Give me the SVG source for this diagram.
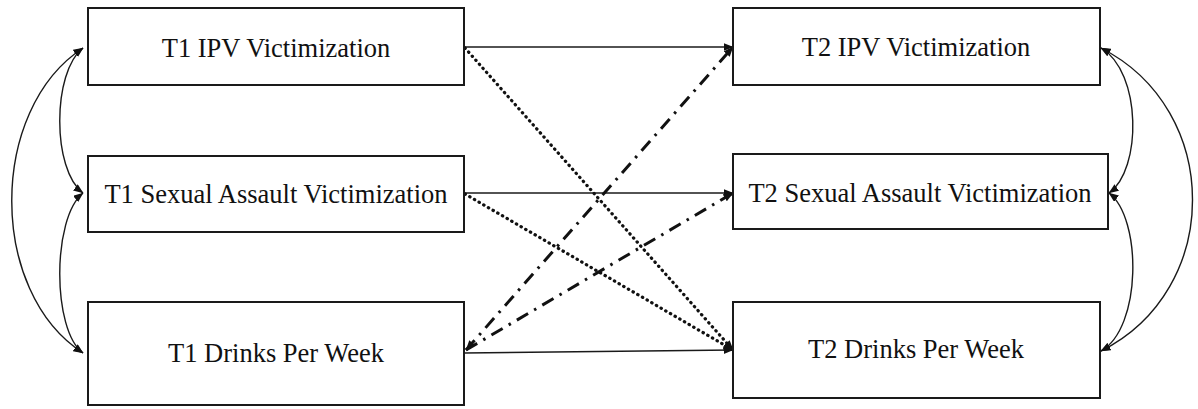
<svg xmlns="http://www.w3.org/2000/svg" width="1198" height="409" viewBox="0 0 1198 409">
  <style>
    .box { fill: #ffffff; stroke: #1a1a1a; stroke-width: 2; }
    .label { font-family: "Liberation Serif", "Times New Roman", "DejaVu Serif", serif; font-size: 26.5px; fill: #111111; text-anchor: middle; }
    .solid { fill: none; stroke: #1a1a1a; stroke-width: 1.6; }
    .curve { fill: none; stroke: #1a1a1a; stroke-width: 1.4; }
    .dotted { fill: none; stroke: #111111; stroke-width: 3.2; stroke-linecap: round; stroke-dasharray: 0.4 5; }
    .dashdot { fill: none; stroke: #111111; stroke-width: 3; stroke-dasharray: 13 7 2.5 7; }
  </style>
  <defs>
    <marker id="arrow" viewBox="0 0 10 8" refX="9.5" refY="4" markerWidth="10" markerHeight="8" markerUnits="userSpaceOnUse" orient="auto-start-reverse">
      <path d="M0,0 L10,4 L0,8 Z" fill="#111111"/>
    </marker>
  </defs>

  <!-- connectors: regression paths and covariance arcs -->
  <g id="connectors">
    <!-- autoregressive paths -->
    <path class="solid" d="M464,47 L733,47" marker-end="url(#arrow)"/>
    <path class="solid" d="M464,193 L733,193" marker-end="url(#arrow)"/>
    <path class="solid" d="M464,353 L733,350" marker-end="url(#arrow)"/>

    <!-- victimization to drinking (dotted) -->
    <path class="dotted" d="M465,48 L733,350" marker-end="url(#arrow)"/>
    <path class="dotted" d="M465,194 L733,350" marker-end="url(#arrow)"/>

    <!-- drinking to victimization (dash-dot) -->
    <path class="dashdot" d="M466,350 L733,47" marker-start="url(#arrow)" marker-end="url(#arrow)"/>
    <path class="dashdot" d="M466,350 L733,193" marker-end="url(#arrow)"/>

    <!-- T1 covariances -->
    <path class="curve" d="M83,48 C52,72 52,170 83,193" marker-start="url(#arrow)" marker-end="url(#arrow)"/>
    <path class="curve" d="M83,193 C52,218 52,330 83,353" marker-start="url(#arrow)" marker-end="url(#arrow)"/>
    <path class="curve" d="M83,48 C-12,110 -12,292 83,353" marker-start="url(#arrow)" marker-end="url(#arrow)"/>

    <!-- T2 covariances -->
    <path class="curve" d="M1101,48 C1142,72 1142,170 1109,193" marker-start="url(#arrow)" marker-end="url(#arrow)"/>
    <path class="curve" d="M1109,193 C1142,218 1142,328 1101,351" marker-start="url(#arrow)" marker-end="url(#arrow)"/>
    <path class="curve" d="M1101,48 C1223,110 1223,290 1101,351" marker-start="url(#arrow)" marker-end="url(#arrow)"/>
  </g>

  <g id="t1-ipv">
    <rect class="box" x="88" y="8" width="376" height="77"/>
    <text class="label" x="276" y="57">T1 IPV Victimization</text>
  </g>
  <g id="t1-sa">
    <rect class="box" x="88" y="156" width="376" height="76"/>
    <text class="label" x="276" y="203">T1 Sexual Assault Victimization</text>
  </g>
  <g id="t1-drinks">
    <rect class="box" x="88" y="302" width="376" height="103"/>
    <text class="label" x="276" y="362">T1 Drinks Per Week</text>
  </g>
  <g id="t2-ipv">
    <rect class="box" x="733" y="8" width="367" height="77"/>
    <text class="label" x="916" y="56">T2 IPV Victimization</text>
  </g>
  <g id="t2-sa">
    <rect class="box" x="733" y="154" width="375" height="75"/>
    <text class="label" x="920" y="202">T2 Sexual Assault Victimization</text>
  </g>
  <g id="t2-drinks">
    <rect class="box" x="733" y="302" width="367" height="96"/>
    <text class="label" x="916" y="358">T2 Drinks Per Week</text>
  </g>
</svg>
